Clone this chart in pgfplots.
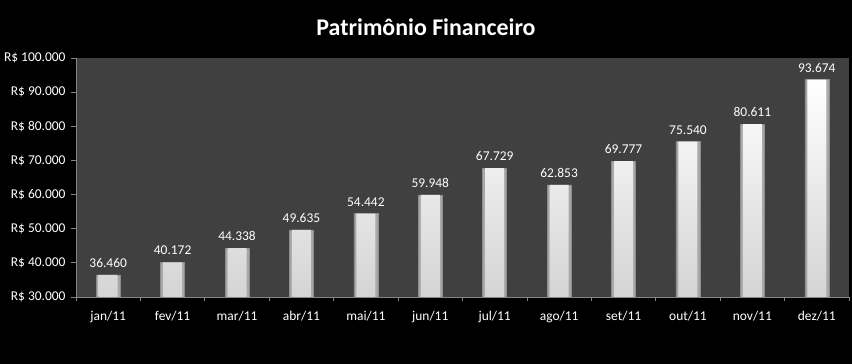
\documentclass[border=0pt]{standalone}
\usepackage{pgfplots}
\usepackage{pgfplotstable}
\pgfplotsset{compat=1.18}
\usepackage{fontspec}
\setmainfont{Carlito}
\definecolor{plotbg}{HTML}{404040}
\definecolor{axgray}{HTML}{868686}
\definecolor{barbot}{HTML}{D4D4D4}
\definecolor{baredge}{HTML}{8C8C8C}
\definecolor{bevside}{HTML}{A8A8A8}
\pgfplotstableread{
x y
0 36460
1 40172
2 44338
3 49635
4 54442
5 59948
6 67729
7 62853
8 69777
9 75540
10 80611
11 93674
}\datatable
\begin{document}
\begin{tikzpicture}
\fill[black] (0,0) rectangle (852bp,364bp);
\useasboundingbox (0,0) rectangle (852bp,364bp);
\node[white,font=\bfseries\fontsize{24}{28}\selectfont] at (426bp,337bp) {Patrimônio Financeiro};
\begin{axis}[
  at={(76bp,67bp)}, anchor=south west,
  scale only axis, width=773bp, height=239bp,
  xmin=-0.5, xmax=11.5, ymin=30000, ymax=100000,
  axis background/.style={fill=plotbg},
  axis x line*=bottom, axis y line*=left,
  axis line style={-,draw=axgray,line width=0.8bp},
  tick style={draw=axgray,line width=0.8bp},
  tick align=outside,
  xtick={0,...,11},
  xticklabels={jan/11,fev/11,mar/11,abr/11,mai/11,jun/11,jul/11,ago/11,set/11,out/11,nov/11,dez/11},
  major x tick style={draw=none},
  minor xtick={-0.5,0.5,...,11.5},
  minor tick length=4bp,
  major tick length=5bp,
  ytick={30000,40000,...,100000},
  yticklabels={R\$ 30.000,R\$ 40.000,R\$ 50.000,R\$ 60.000,R\$ 70.000,R\$ 80.000,R\$ 90.000,R\$ 100.000},
  scaled y ticks=false,
  ticklabel style={white,font=\fontsize{13.5}{15}\selectfont},
  yticklabel style={xshift=-2bp},
  xticklabel style={yshift=-6bp},
  ybar, bar shift=0pt,
]
\addplot[bar width=24bp,draw=baredge,line width=0.5bp,left color=bevside,middle color=white,right color=bevside] table[x=x,y=y] {\datatable};
\addplot[bar width=19bp,draw=none,top color=white,bottom color=barbot,
  nodes near coords,
  every node near coord/.append style={white,font=\fontsize{13.5}{15}\selectfont,anchor=south,inner sep=0pt,yshift=7bp,
    /pgf/number format/fixed,/pgf/number format/precision=0,/pgf/number format/1000 sep={.},/pgf/number format/assume math mode=true}]
  table[x=x,y=y] {\datatable};
\end{axis}
\end{tikzpicture}
\end{document}
